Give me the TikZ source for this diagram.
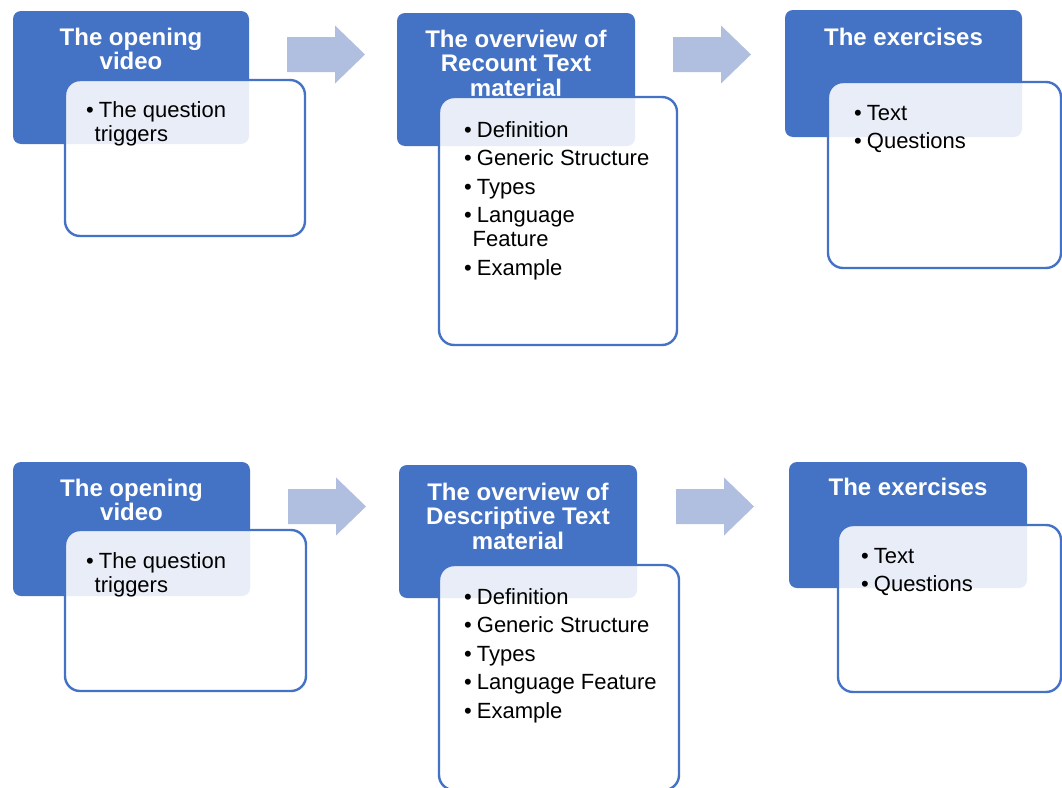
\documentclass[tikz,border=0pt]{standalone}
\usepackage{fontspec}
\setmainfont{Liberation Sans}
\usetikzlibrary{positioning}
\definecolor{headblue}{RGB}{68,114,196}
\definecolor{arrowblue}{RGB}{176,190,223}
\newcommand{\bitem}{\textbullet\hspace{5pt}}
\newcommand{\bcont}{\hspace*{8.5pt}}
\newcommand{\headlines}[1]{\begin{tabular}[t]{@{}c@{}}#1\end{tabular}}
\newcommand{\listlines}[1]{\begin{tabular}[t]{@{}l@{}}#1\end{tabular}}
\tikzset{
  headbox/.style={fill=headblue, rounded corners=8pt, anchor=north west, inner sep=0pt, outer sep=0pt},
  headtext/.style={text=white, font=\fontsize{24}{24.5}\selectfont\bfseries, anchor=base, inner sep=0pt},
  listbox/.style={draw=headblue, line width=2.4pt, fill=white, fill opacity=0.88, rounded corners=15pt, anchor=north west, inner sep=0pt, outer sep=0pt},
  listtext/.style={font=\fontsize{22}{24}\selectfont, anchor=base west, inner sep=0pt},
  flowarrow/.pic={\fill[arrowblue] (0,-17.5) -- (48,-17.5) -- (48,-29) -- (78,0) -- (48,29) -- (48,17.5) -- (0,17.5) -- cycle;}
}
\begin{document}
\begin{tikzpicture}[x=1pt, y=-1pt]
  \useasboundingbox (0,0) rectangle (1062,787);
  \node[headbox, minimum width=236pt, minimum height=133pt] (open1) at (13,11) {};
  \node[headbox, minimum width=238pt, minimum height=133pt] (over1) at (397,13) {};
  \node[headbox, minimum width=237pt, minimum height=127pt] (exer1) at (785,10) {};
  \node[headbox, minimum width=237pt, minimum height=134pt] (open2) at (13,462) {};
  \node[headbox, minimum width=238pt, minimum height=133pt] (over2) at (399,465) {};
  \node[headbox, minimum width=238pt, minimum height=126pt] (exer2) at (789,462) {};
  \node[headtext] (open1t) at ([yshift=-34pt]open1.north) {\headlines{The opening\\video}};
  \node[headtext] (over1t) at ([yshift=-34pt]over1.north) {\headlines{The overview of\\Recount Text\\material}};
  \node[headtext] (exer1t) at ([yshift=-35pt]exer1.north) {\headlines{The exercises}};
  \node[headtext] (open2t) at ([yshift=-34pt]open2.north) {\headlines{The opening\\video}};
  \node[headtext] (over2t) at ([yshift=-35pt]over2.north) {\headlines{The overview of\\Descriptive Text\\material}};
  \node[headtext] (exer2t) at ([yshift=-33pt]exer2.north) {\headlines{The exercises}};
  \node[listbox, minimum width=240pt, minimum height=156pt] (open1b) at (65,80) {};
  \node[listbox, minimum width=238pt, minimum height=248pt] (over1b) at (439,97) {};
  \node[listbox, minimum width=233pt, minimum height=186pt] (exer1b) at (828,82) {};
  \node[listbox, minimum width=241pt, minimum height=161pt] (open2b) at (65,530) {};
  \node[listbox, minimum width=240pt, minimum height=225pt] (over2b) at (439,565) {};
  \node[listbox, minimum width=223pt, minimum height=167pt] (exer2b) at (838,525) {};
  \node[listtext] (open1l) at (86,117) {\listlines{\bitem The question\\\bcont triggers}};
  \node[listtext] (over1l) at (464,137) {\listlines{\bitem Definition\\[4.5pt]\bitem Generic Structure\\[4.5pt]\bitem Types\\[4.5pt]\bitem Language\\\bcont Feature\\[4.5pt]\bitem Example}};
  \node[listtext] (exer1l) at (854,120) {\listlines{\bitem Text\\[4.5pt]\bitem Questions}};
  \node[listtext] (open2l) at (86,568) {\listlines{\bitem The question\\\bcont triggers}};
  \node[listtext] (over2l) at (464,604) {\listlines{\bitem Definition\\[4.5pt]\bitem Generic Structure\\[4.5pt]\bitem Types\\[4.5pt]\bitem Language Feature\\[4.5pt]\bitem Example}};
  \node[listtext] (exer2l) at (861,563) {\listlines{\bitem Text\\[4.5pt]\bitem Questions}};
  \pic at (287,54.5) {flowarrow};
  \pic at (673,54.5) {flowarrow};
  \pic at (288,506.5) {flowarrow};
  \pic at (676,506.5) {flowarrow};
\end{tikzpicture}
\end{document}
